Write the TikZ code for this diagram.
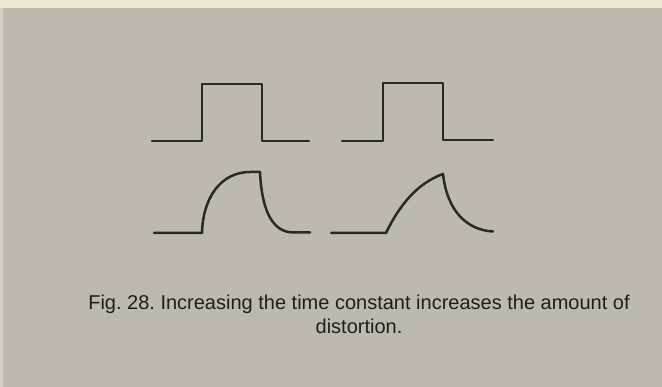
\documentclass[tikz,border=0pt]{standalone}
\usepackage{fontspec}
\setmainfont{Liberation Sans}
\definecolor{bg}{HTML}{BDB9AE}
\definecolor{strip}{HTML}{EEE8D2}
\definecolor{ink}{HTML}{2A2A24}
\definecolor{txt}{HTML}{1E1E1C}
\begin{document}
\begin{tikzpicture}[x=1pt,y=-1pt,
  wave/.style={draw=ink,line width=2.5pt,line join=round,line cap=round},
  caption/.style={text=txt,font=\fontsize{20}{24}\selectfont\frenchspacing,align=center,inner sep=0pt}]
\useasboundingbox (0,0) rectangle (662,387);
\fill[bg] (0,0) rectangle (662,387);
\fill[strip] (0,0) rectangle (662,8);
\fill[strip,opacity=0.5] (0,8) rectangle (3,387);
% top-left square wave
\draw[wave] (152,141) -- (202,141) -- (202,84) -- (262,84) -- (262,141) -- (309,141);
% top-right square wave
\draw[wave] (342,141) -- (383,141) -- (383,83) -- (443,83) -- (443,140) -- (493,140);
% bottom-left distorted pulse
\draw[wave] (154,233) -- (202,233) .. controls (203,196) and (222,172) .. (250,172)
  -- (260,172) .. controls (262,214) and (274,232) .. (293,232.5) -- (310,232.5);
% bottom-right distorted pulse
\draw[wave] (331,233) -- (386,233) .. controls (400,204) and (418,183) .. (443,174)
  .. controls (447,210) and (466,230) .. (493,231.5);
\node[caption] (cap) at (359,314) {Fig. 28. Increasing the time constant increases the amount of\\distortion.};
\end{tikzpicture}
\end{document}
